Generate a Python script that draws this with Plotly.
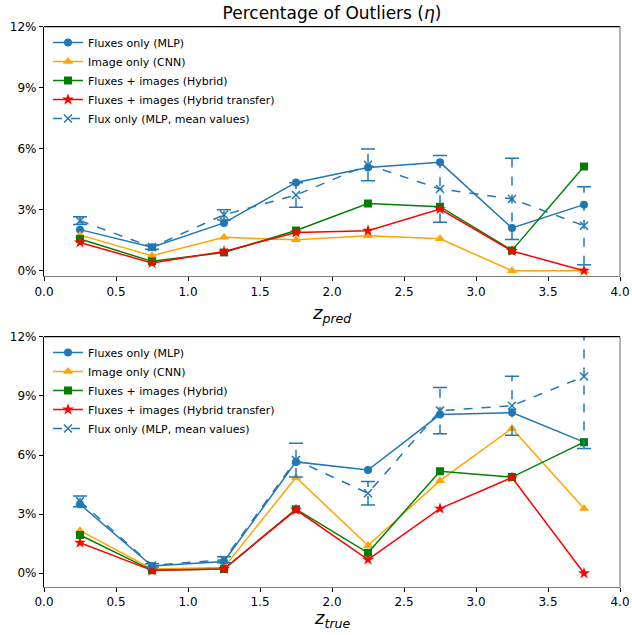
import plotly.graph_objects as go

# ---------------- data ----------------
z_bins = [0.25, 0.75, 1.25, 1.75, 2.25, 2.75, 3.25, 3.75]

# top panel (vs z_pred), percent
pred_mlp = [2.02, 1.15, 2.35, 4.34, 5.08, 5.33, 2.10, 3.25]
pred_cnn = [1.75, 0.74, 1.64, 1.52, 1.72, 1.57, 0.0, 0.0]
pred_hyb = [1.56, 0.46, 0.90, 1.98, 3.30, 3.15, 1.00, 5.13]
pred_tra = [1.39, 0.38, 0.95, 1.88, 1.97, 3.03, 0.97, 0.0]
pred_mean = [2.46, 1.16, 2.75, 3.72, 5.21, 4.02, 3.53, 2.21]
pred_err = [0.19, 0.10, 0.25, 0.60, 0.78, 1.64, 2.00, 1.92]

# bottom panel (vs z_true), percent
true_mlp = [3.50, 0.37, 0.60, 5.65, 5.24, 8.05, 8.15, 6.65]
true_cnn = [2.16, 0.22, 0.30, 4.86, 1.41, 4.70, 7.35, 3.28]
true_hyb = [1.94, 0.15, 0.22, 3.25, 1.04, 5.18, 4.88, 6.65]
true_tra = [1.55, 0.15, 0.22, 3.22, 0.69, 3.28, 4.86, 0.0]
true_mean = [3.65, 0.40, 0.69, 5.74, 4.06, 8.25, 8.50, 9.98]
true_err = [0.27, 0.08, 0.15, 0.85, 0.60, 1.17, 1.50, 3.65]

names = ["Fluxes only (MLP)", "Image only (CNN)", "Fluxes + images (Hybrid)",
         "Fluxes + images (Hybrid transfer)", "Flux only (MLP, mean values)"]
colors = ["#1f77b4", "#FFA500", "#008000", "#FF0000", "#1f77b4"]
symbols = ["circle", "triangle-up", "square", "star", "x-thin-open"]
sizes = [8, 9, 8, 9, 8]

yticks = [0, 3, 6, 9, 12]
ytick_text = ["0%", "3%", "6%", "9%", "12%"]
xticks = [0, 0.5, 1.0, 1.5, 2.0, 2.5, 3.0, 3.5, 4.0]

W, H = 632, 635
FONT = "DejaVu Sans"

fig = go.Figure()


def add_panel(series, mean, err, xa, ya, legend):
    for i, ys in enumerate(series):
        fig.add_trace(go.Scatter(
            x=z_bins, y=ys, mode="lines+markers", name=names[i],
            line=dict(color=colors[i], width=1.5),
            marker=dict(symbol=symbols[i], size=sizes[i], color=colors[i]),
            xaxis=xa, yaxis=ya, legend=legend))
    # dashed error bar stems
    sx, sy, cx, cy = [], [], [], []
    for x, m, e in zip(z_bins, mean, err):
        sx += [x, x, None]
        sy += [m - e, m + e, None]
        cx += [x, x]
        cy += [m - e, m + e]
    fig.add_trace(go.Scatter(
        x=sx, y=sy, mode="lines", line=dict(color=colors[4], width=1.5, dash="dash"),
        showlegend=False, hoverinfo="skip", xaxis=xa, yaxis=ya))
    fig.add_trace(go.Scatter(
        x=cx, y=cy, mode="markers",
        marker=dict(symbol="line-ew-open", size=10, color=colors[4],
                    line=dict(color=colors[4], width=1.5)),
        showlegend=False, hoverinfo="skip", xaxis=xa, yaxis=ya))
    fig.add_trace(go.Scatter(
        x=z_bins, y=mean, mode="lines+markers", name=names[4],
        line=dict(color=colors[4], width=1.5, dash="dash"),
        marker=dict(symbol=symbols[4], size=sizes[4], color=colors[4],
                    line=dict(color=colors[4], width=1.5)),
        xaxis=xa, yaxis=ya, legend=legend))


add_panel([pred_mlp, pred_cnn, pred_hyb, pred_tra], pred_mean, pred_err, "x", "y", "legend")
add_panel([true_mlp, true_cnn, true_hyb, true_tra], true_mean, true_err, "x2", "y2", "legend2")

xdom = [44 / W, 620 / W]
top_dom = [1 - 276 / H, 1 - 26.7 / H]
bot_dom = [1 - 586.7 / H, 1 - 336.7 / H]

axis_common = dict(showgrid=False, zeroline=False, ticks="outside", ticklen=4,
                   tickwidth=1, tickcolor="black", automargin=False,
                   tickfont=dict(family=FONT, size=12, color="black"))

legend_common = dict(xanchor="left", yanchor="top", bgcolor="rgba(255,255,255,0)",
                     font=dict(family=FONT, size=11, color="black"),
                     tracegroupgap=0, itemwidth=30)

fig.update_layout(
    width=W, height=H, margin=dict(l=0, r=0, t=0, b=0),
    plot_bgcolor="white", paper_bgcolor="white",
    font=dict(family=FONT, color="black"),
    title=dict(text="Percentage of Outliers (<i>η</i>)", x=332 / W, xanchor="center",
               y=1 - 13 / H, yanchor="middle", xref="paper", yref="paper",
               font=dict(family=FONT, size=17, color="black")),
    xaxis=dict(domain=xdom, anchor="y", range=[0, 4], tickvals=xticks, tickformat=".1f",
               showline=True, linecolor="#808080", linewidth=1.2, **axis_common),
    yaxis=dict(domain=top_dom, anchor="x", range=[-0.26, 12], tickvals=yticks,
               ticktext=ytick_text, tickmode="array",
               showline=True, linecolor="black", linewidth=1.2, **axis_common),
    xaxis2=dict(domain=xdom, anchor="y2", range=[0, 4], tickvals=xticks, tickformat=".1f",
                showline=True, linecolor="#808080", linewidth=1.2, **axis_common),
    yaxis2=dict(domain=bot_dom, anchor="x2", range=[-0.68, 12], tickvals=yticks,
                ticktext=ytick_text, tickmode="array",
                showline=True, linecolor="black", linewidth=1.2, **axis_common),
    legend=dict(x=48 / W, y=1 - 28 / H, **legend_common),
    legend2=dict(x=48 / W, y=1 - 338 / H, **legend_common),
    showlegend=True,
)

# top (black) and right (gray) spines
for xa, ya in [("x", "y"), ("x2", "y2")]:
    fig.add_shape(type="line", xref=f"{xa} domain", yref=f"{ya} domain",
                  x0=0, x1=1, y0=1, y1=1, line=dict(color="black", width=1.2))
    fig.add_shape(type="line", xref=f"{xa} domain", yref=f"{ya} domain",
                  x0=1, x1=1, y0=0, y1=1, line=dict(color="#808080", width=1.2))

# x-axis titles
for txt, ypix in [("<i>z</i><sub><i>pred</i></sub>", 314), ("<i>z</i><sub><i>true</i></sub>", 619)]:
    fig.add_annotation(text=txt, x=332 / W, y=1 - ypix / H, xref="paper", yref="paper",
                       xanchor="center", yanchor="middle", showarrow=False,
                       font=dict(family=FONT, size=18, color="black"))

fig.write_html("out.html")
